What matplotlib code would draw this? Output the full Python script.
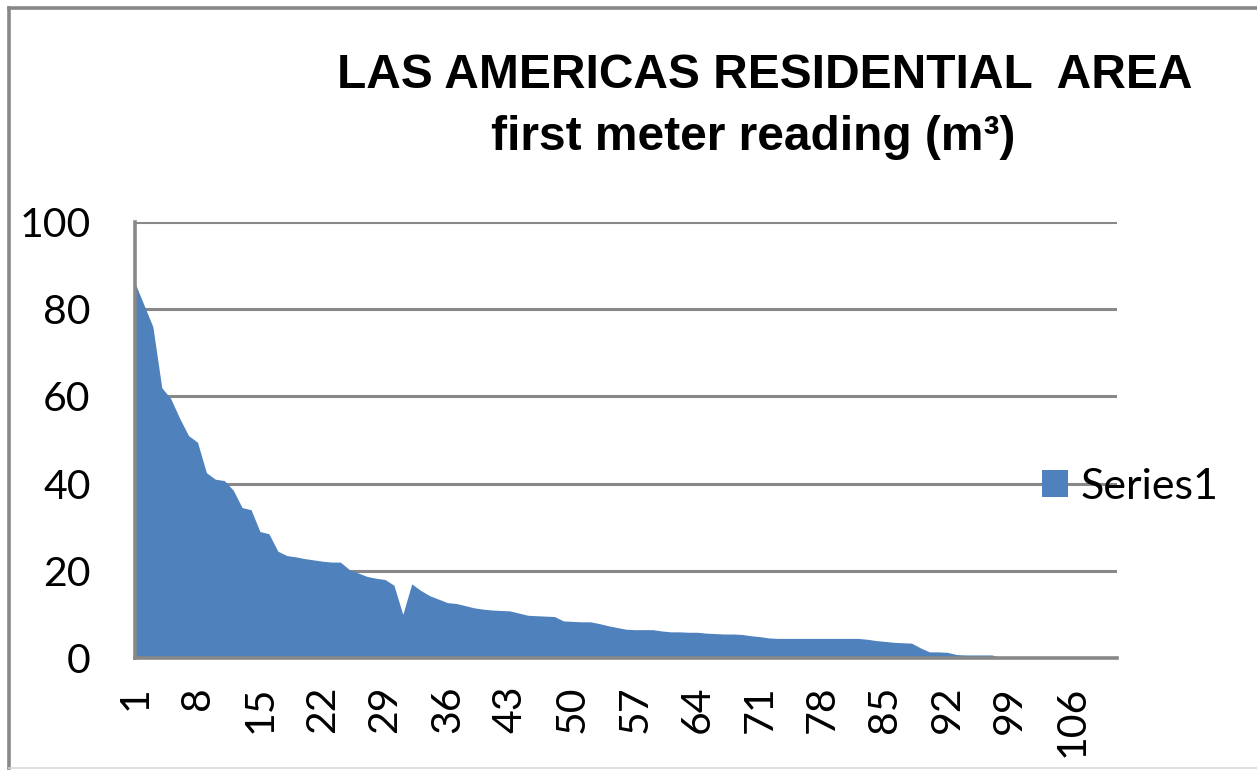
import numpy as np
import matplotlib.pyplot as plt
from matplotlib.lines import Line2D

# first meter reading per house, sorted from largest to smallest
readings = [86, 81, 76, 62, 59.5, 55, 51, 49.5, 42.5, 41,
            40.7, 38.5, 34.5, 34, 29, 28.5, 24.5, 23.5, 23.2, 22.8,
            22.5, 22.2, 22, 22, 20.3, 19.5, 18.7, 18.3, 18, 16.7,
            10, 17, 15.5, 14.3, 13.5, 12.7, 12.5, 12, 11.5, 11.2,
            11, 10.9, 10.8, 10.3, 9.8, 9.7, 9.6, 9.5, 8.5, 8.4,
            8.3, 8.3, 7.9, 7.4, 7, 6.6, 6.5, 6.5, 6.5, 6.2,
            6.0, 6.0, 5.9, 5.9, 5.7, 5.6, 5.5, 5.5, 5.4, 5.1,
            4.9, 4.6, 4.5, 4.5, 4.5, 4.5, 4.5, 4.5, 4.5, 4.5,
            4.5, 4.5, 4.3, 4.0, 3.8, 3.6, 3.5, 3.4, 2.3, 1.4,
            1.4, 1.3, 0.8, 0.7, 0.7, 0.7, 0.7, 0, 0, 0,
            0, 0, 0, 0, 0, 0, 0, 0, 0, 0, 0]
houses = np.arange(1, len(readings) + 1)
xticks = list(range(1, len(readings) + 1, 7))
yticks = [0, 20, 40, 60, 80, 100]

blue = '#4F81BD'
grey = '#888888'

fig = plt.figure(figsize=(12.57, 7.70), dpi=100)
ax = fig.add_axes([135 / 1257, 1 - 658 / 770, (1117 - 135) / 1257, (658 - 222) / 770])

area = ax.fill_between(houses, readings, 0, color=blue, linewidth=0, zorder=3, label='Series1')

ax.set_xlim(1, len(readings))
ax.set_ylim(0, 100)
ax.set_xticks(xticks)
ax.set_xticklabels([str(t) for t in xticks], rotation=90, fontfamily='Lato', fontsize=29.5)
ax.set_yticks(yticks)
ax.set_yticklabels([str(t) for t in yticks], fontfamily='Lato', fontsize=29.5)
ax.tick_params(axis='x', length=0, pad=20)
ax.tick_params(axis='y', length=0, pad=32)

ax.yaxis.grid(True, color=grey, linewidth=2.2, zorder=1)
ax.set_axisbelow(True)
for side in ['top', 'right']:
    ax.spines[side].set_visible(False)
for side in ['left', 'bottom']:
    ax.spines[side].set_color(grey)
    ax.spines[side].set_linewidth(2.6)
    ax.spines[side].set_zorder(4)

fig.legend(handles=[area], labels=['Series1'], loc='center left',
           bbox_to_anchor=(1042 / 1257, 1 - 487 / 770), frameon=False,
           prop={'family': 'Lato', 'size': 31}, handlelength=0.6,
           handleheight=0.6, handletextpad=0.3, borderpad=0, borderaxespad=0)

fig.text(765 / 1257, 1 - 75 / 770, 'LAS AMERICAS RESIDENTIAL  AREA', ha='center', va='center',
         fontfamily='Liberation Sans', fontweight='bold', fontsize=34.5)
fig.text(753 / 1257, 1 - 137 / 770, 'first meter reading (m³)', ha='center', va='center',
         fontfamily='Liberation Sans', fontweight='bold', fontsize=34.5)

# chart frame
fig.add_artist(Line2D([9 / 1257, 1], [1 - 8 / 770] * 2, color=grey, linewidth=2.6, transform=fig.transFigure))
fig.add_artist(Line2D([9 / 1257] * 2, [1 - 8 / 770, 1 - 768 / 770], color=grey, linewidth=2.6, transform=fig.transFigure))
fig.add_artist(Line2D([9 / 1257, 1], [1 - 768 / 770] * 2, color='#d9d9d9', linewidth=1.2, transform=fig.transFigure))

fig.savefig('out.png', dpi=100)
